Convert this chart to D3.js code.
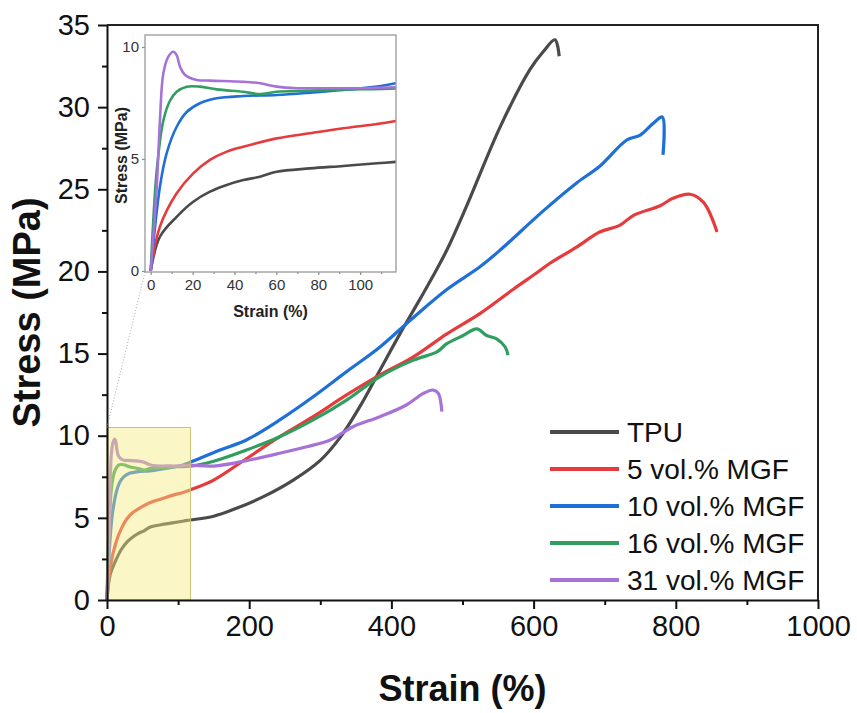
<!DOCTYPE html>
<html>
<head>
<meta charset="utf-8">
<script src="https://cdn.jsdelivr.net/npm/d3@7"></script>
<style>
  body { margin: 0; background: #fff; }
  svg { font-family: "Liberation Sans", Arial, sans-serif; }
</style>
</head>
<body>
<div id="chart"></div>
<script>
// series: [strain %, stress MPa]
const tpu = [[0,0],[4.4,1.53],[12.4,2.42],[20.3,3.09],[28.3,3.54],[36.3,3.84],[44.2,4.06],[52.2,4.21],[60.1,4.43],[76,4.58],[92,4.69],[108,4.81],[117,4.87],[150,5.1],[182,5.58],[220,6.29],[262,7.3],[300,8.5],[328,9.9],[356,11.8],[384,14.0],[412,16.2],[440,18.3],[457,19.6],[478,21.3],[506,24.0],[553,28.8],[595,32.3],[614,33.4],[630,34.1],[636,33.1]];
const mgf5 = [[0,0],[4.4,1.98],[12.4,3.47],[20.3,4.36],[28.3,4.96],[36.3,5.33],[44.2,5.55],[60.1,5.92],[76,6.15],[92,6.37],[108,6.56],[117,6.7],[150,7.3],[196,8.6],[243,9.94],[290,11.16],[337,12.48],[384,13.7],[431,14.8],[478,16.2],[525,17.45],[571,18.9],[604,19.9],[623,20.5],[661,21.5],[693,22.4],[721,22.8],[740,23.4],[778,24.0],[796,24.45],[820,24.7],[839,24.2],[858,22.4]];
const mgf10 = [[0,0],[4.4,3.76],[7.6,5.25],[12.4,6.44],[17.2,7.1],[23.5,7.49],[31.5,7.71],[44.2,7.81],[60.1,7.86],[76,7.96],[92,8.08],[108,8.23],[117,8.38],[159,9.13],[196,9.74],[243,10.96],[290,12.37],[337,13.9],[384,15.4],[431,17.2],[478,18.9],[525,20.3],[553,21.3],[614,23.7],[661,25.4],[693,26.4],[731,28.0],[750,28.3],[768,29.0],[781,29.4],[782,27.1]];
const mgf16 = [[0,0],[2.9,4.5],[6.0,6.7],[9.2,7.6],[12.4,8.0],[17.2,8.23],[23.5,8.23],[31.5,8.11],[44.2,8.0],[52.2,7.9],[60.1,8.0],[76,8.05],[92,8.11],[117,8.15],[150,8.45],[196,9.13],[243,9.94],[290,10.96],[337,12.17],[384,13.6],[431,14.6],[464,15.1],[478,15.6],[501,16.1],[520,16.5],[534,16.1],[548,15.9],[560,15.4],[564,14.9]];
const mgf31 = [[0,0],[2.9,3.76],[4.4,6.7],[6.0,8.8],[8.4,9.57],[10.8,9.79],[12.4,9.64],[14,9.12],[16.4,8.75],[22,8.53],[28.3,8.5],[44.2,8.45],[52.2,8.38],[60.1,8.23],[69.7,8.16],[84,8.16],[100,8.16],[117,8.2],[150,8.15],[196,8.48],[243,8.93],[281,9.33],[314,9.74],[346,10.55],[384,11.16],[421,11.87],[445,12.58],[459,12.78],[466,12.58],[471,11.46]];

const seriesNames = ['TPU', '5 vol.% MGF', '10 vol.% MGF', '16 vol.% MGF', '31 vol.% MGF'];
const seriesData = [tpu, mgf5, mgf10, mgf16, mgf31];
const COLORS = ['#4a4a4a', '#e63a3c', '#1f6fd8', '#2f9e5f', '#a772d8'];

const xTicks = [0, 200, 400, 600, 800, 1000];
const yTicks = [0, 5, 10, 15, 20, 25, 30, 35];
const insetXTicks = [0, 20, 40, 60, 80, 100];
const insetYTicks = [0, 5, 10];
const zoomBox = { strain: 117.5, stress: 10.5 };

const width = 857, height = 713;
const margin = { top: 25, right: 39, bottom: 113, left: 107 };

const svg = d3.select('#chart').append('svg')
  .attr('width', width)
  .attr('height', height);

const x = d3.scaleLinear().domain([0, 1000]).range([margin.left, width - margin.right]);
const y = d3.scaleLinear().domain([0, 35]).range([height - margin.bottom, margin.top]);

const line = d3.line()
  .x(d => x(d[0]))
  .y(d => y(d[1]))
  .curve(d3.curveCatmullRom.alpha(0.5));

// main curves
svg.append('g')
  .selectAll('path')
  .data(seriesData)
  .enter().append('path')
    .attr('d', line)
    .attr('fill', 'none')
    .attr('stroke', (d, i) => COLORS[i])
    .attr('stroke-width', 3.2)
    .attr('stroke-linejoin', 'round');

// highlighted zoom region
svg.append('rect')
  .attr('x', x(0))
  .attr('y', y(zoomBox.stress))
  .attr('width', x(zoomBox.strain) - x(0))
  .attr('height', y(0) - y(zoomBox.stress))
  .attr('fill', '#f3ea7e')
  .attr('fill-opacity', 0.45)
  .attr('stroke', '#c9c27a')
  .attr('stroke-width', 1);

// axes
const gx = svg.append('g')
  .attr('transform', 'translate(0,' + y(0) + ')')
  .call(d3.axisBottom(x).tickValues(xTicks).tickFormat(d3.format('d')).tickSize(9).tickSizeOuter(0).tickPadding(6));
svg.append('g')
  .attr('transform', 'translate(0,' + y(0) + ')')
  .call(d3.axisBottom(x).tickValues(d3.range(100, 1000, 200)).tickSize(5).tickFormat(''))
  .call(g => g.select('.domain').remove());

const gy = svg.append('g')
  .attr('transform', 'translate(' + x(0) + ',0)')
  .call(d3.axisLeft(y).tickValues(yTicks).tickSize(9).tickSizeOuter(0).tickPadding(8));
svg.append('g')
  .attr('transform', 'translate(' + x(0) + ',0)')
  .call(d3.axisLeft(y).tickValues(d3.range(2.5, 35, 5)).tickSize(5).tickFormat(''))
  .call(g => g.select('.domain').remove());

svg.selectAll('.domain, .tick line')
  .attr('stroke', '#111')
  .attr('stroke-width', 2);
gx.selectAll('text').attr('font-size', 29).attr('fill', '#111').attr('font-family', null);
gy.selectAll('text').attr('font-size', 29).attr('fill', '#111').attr('font-family', null);

// top and right frame
svg.append('path')
  .attr('d', 'M' + x(0) + ',' + y(35) + 'H' + x(1000) + 'V' + y(0))
  .attr('fill', 'none')
  .attr('stroke', '#222')
  .attr('stroke-width', 2);

svg.append('text')
  .attr('x', (x(0) + x(1000)) / 2)
  .attr('y', 701)
  .attr('text-anchor', 'middle')
  .attr('font-size', 36)
  .attr('font-weight', 'bold')
  .attr('fill', '#111')
  .text('Strain (%)');

svg.append('text')
  .attr('transform', 'translate(40,' + y(17.5) + ') rotate(-90)')
  .attr('text-anchor', 'middle')
  .attr('font-size', 38)
  .attr('font-weight', 'bold')
  .attr('fill', '#111')
  .text('Stress (MPa)');

// legend
const legend = svg.append('g')
  .selectAll('g')
  .data(seriesNames)
  .enter().append('g')
    .attr('transform', (d, i) => 'translate(550,' + (432 + i * 37) + ')');
legend.append('line')
  .attr('x1', 0).attr('x2', 69)
  .attr('stroke', (d, i) => COLORS[i])
  .attr('stroke-width', 4);
legend.append('text')
  .attr('x', 77)
  .attr('dy', '0.35em')
  .attr('font-size', 28)
  .attr('fill', '#111')
  .text(d => d);

// inset
const inset = { left: 145, top: 35, right: 396, bottom: 272 };
const ix = d3.scaleLinear().domain([0, 100]).range([150.7, 360.2]);
const iy = d3.scaleLinear().domain([0, 10]).range([271, 47]);

// dotted guide from zoom box to inset
svg.append('line')
  .attr('x1', x(0)).attr('y1', y(zoomBox.stress))
  .attr('x2', inset.left).attr('y2', inset.bottom)
  .attr('stroke', '#aaa')
  .attr('stroke-width', 1)
  .attr('stroke-dasharray', '1,2');

const ig = svg.append('g');
ig.append('rect')
  .attr('x', inset.left).attr('y', inset.top)
  .attr('width', inset.right - inset.left)
  .attr('height', inset.bottom - inset.top)
  .attr('fill', '#fff');

svg.append('clipPath').attr('id', 'inset-clip')
  .append('rect')
    .attr('x', inset.left).attr('y', inset.top)
    .attr('width', inset.right - inset.left)
    .attr('height', inset.bottom - inset.top);

const iline = d3.line()
  .x(d => ix(d[0]))
  .y(d => iy(d[1]))
  .curve(d3.curveCatmullRom.alpha(0.5));

ig.append('g')
  .attr('clip-path', 'url(#inset-clip)')
  .selectAll('path')
  .data(seriesData.map(s => s.filter(d => d[0] <= 150)))
  .enter().append('path')
    .attr('d', iline)
    .attr('fill', 'none')
    .attr('stroke', (d, i) => COLORS[i])
    .attr('stroke-width', 2.6)
    .attr('stroke-linejoin', 'round');

const igx = ig.append('g')
  .attr('transform', 'translate(0,' + inset.bottom + ')')
  .call(d3.axisBottom(ix).tickValues(insetXTicks).tickSize(3).tickSizeOuter(0).tickPadding(4));
ig.append('g')
  .attr('transform', 'translate(0,' + inset.bottom + ')')
  .call(d3.axisBottom(ix).tickValues(d3.range(10, 120, 20)).tickSize(2).tickFormat(''))
  .call(g => g.select('.domain').remove());
const igy = ig.append('g')
  .attr('transform', 'translate(' + inset.left + ',0)')
  .call(d3.axisLeft(iy).tickValues(insetYTicks).tickSize(3).tickSizeOuter(0).tickPadding(3));

ig.selectAll('.domain').remove();
ig.selectAll('.tick line').attr('stroke', '#888').attr('stroke-width', 1.2);
ig.selectAll('.tick text').attr('font-size', 15).attr('fill', '#333').attr('font-family', null);

ig.append('rect')
  .attr('x', inset.left).attr('y', inset.top)
  .attr('width', inset.right - inset.left)
  .attr('height', inset.bottom - inset.top)
  .attr('fill', 'none')
  .attr('stroke', '#999')
  .attr('stroke-width', 1.3);

ig.append('text')
  .attr('x', (inset.left + inset.right) / 2)
  .attr('y', 317)
  .attr('text-anchor', 'middle')
  .attr('font-size', 16)
  .attr('font-weight', 'bold')
  .attr('fill', '#222')
  .text('Strain (%)');

ig.append('text')
  .attr('transform', 'translate(127,' + ((inset.top + inset.bottom) / 2 + 2) + ') rotate(-90)')
  .attr('text-anchor', 'middle')
  .attr('font-size', 16)
  .attr('font-weight', 'bold')
  .attr('fill', '#222')
  .text('Stress (MPa)');
</script>
</body>
</html>
